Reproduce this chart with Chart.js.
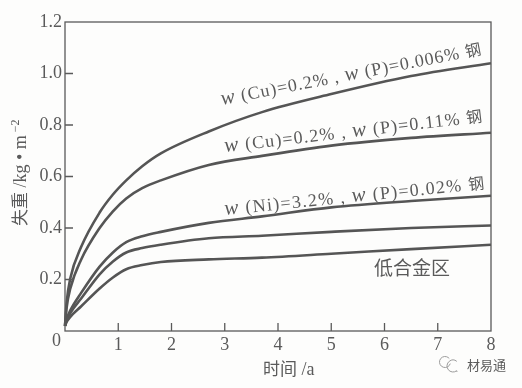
<!DOCTYPE html>
<html>
<head>
<meta charset="utf-8">
<style>
  html, body { margin: 0; padding: 0; background: #fdfdfc; }
  canvas { display: block; }
</style>
<script src="https://cdn.jsdelivr.net/npm/chart.js@4/dist/chart.umd.min.js"></script>
</head>
<body>
<canvas id="chart" width="522" height="388"></canvas>
<script>
const years = [0, 0.03, 0.1, 0.3, 0.65, 0.9, 1.15, 1.45, 1.8, 2.7, 3.7, 5, 6.5, 8];
const cuLowP = [0.02, 0.11, 0.205, 0.325, 0.46, 0.53, 0.585, 0.64, 0.69, 0.775, 0.85, 0.92, 0.99, 1.04];
const cuHighP = [0.02, 0.09, 0.165, 0.276, 0.4, 0.465, 0.515, 0.555, 0.585, 0.645, 0.68, 0.72, 0.75, 0.77];
const niSteel = [0.02, 0.045, 0.08, 0.147, 0.25, 0.305, 0.345, 0.368, 0.385, 0.42, 0.445, 0.48, 0.505, 0.525];
const steelD = [0.02, 0.04, 0.07, 0.125, 0.22, 0.27, 0.305, 0.322, 0.335, 0.36, 0.37, 0.385, 0.4, 0.41];
const lowAlloy = [0.02, 0.035, 0.055, 0.095, 0.165, 0.208, 0.24, 0.256, 0.268, 0.278, 0.285, 0.3, 0.318, 0.335];
const seriesList = [cuLowP, cuHighP, niSteel, steelD, lowAlloy];
const xTicks = [1, 2, 3, 4, 5, 6, 7, 8];
const yTicks = [0.2, 0.4, 0.6, 0.8, 1.0, 1.2];

const ink = '#5a5a5a';
const serif = '"Liberation Serif", serif';
const cjk = '"Noto Sans CJK SC", sans-serif';

// runs of text along a rotated baseline, each run can have its own font
// spacing is the extra gap per character, in px
function drawRuns(ctx, runs, x, y, angle, spacing) {
  ctx.save();
  ctx.translate(x, y);
  ctx.rotate(angle * Math.PI / 180);
  ctx.fillStyle = ink;
  ctx.textAlign = 'left';
  ctx.textBaseline = 'alphabetic';
  ctx.letterSpacing = (spacing || 0) + 'px';
  let pos = 0;
  runs.forEach(([text, font, dy]) => {
    ctx.font = font;
    ctx.fillText(text, pos, dy || 0);
    pos += ctx.measureText(text).width;
  });
  ctx.restore();
}

function wLabel(el, a, b) {
  const t = '18px ' + serif;
  return [
    ['w', 'italic 21px ' + serif],
    [' (' + el + ')', t],
    ['=' + a + '% , ', t],
    ['w', 'italic 21px ' + serif],
    [' (P)=' + b + '% ', t],
    ['钢', '16px ' + cjk]
  ];
}

const annotate = {
  id: 'annotate',
  afterDraw(chart) {
    const { ctx, chartArea: a, scales: { x, y } } = chart;
    ctx.save();
    ctx.strokeStyle = ink;
    ctx.lineWidth = 1.3;
    ctx.strokeRect(a.left, a.top, a.right - a.left, a.bottom - a.top);
    // inward ticks
    ctx.beginPath();
    xTicks.slice(0, -1).forEach(v => {
      const px = x.getPixelForValue(v);
      ctx.moveTo(px, a.bottom);
      ctx.lineTo(px, a.bottom - 8);
    });
    yTicks.slice(0, -1).forEach(v => {
      const py = y.getPixelForValue(v);
      ctx.moveTo(a.left, py);
      ctx.lineTo(a.left + 8, py);
    });
    ctx.stroke();
    ctx.restore();

    drawRuns(ctx, [['0', '18px ' + serif]], 52, 346, 0);
    drawRuns(ctx, wLabel('Cu', '0.2', '0.006'), 222, 105, -11, 0.95);
    drawRuns(ctx, wLabel('Cu', '0.2', '0.11'), 225, 152, -6.7, 1.15);
    drawRuns(ctx, wLabel('Ni', '3.2', '0.02'), 225, 215, -5.8, 1.3);
    drawRuns(ctx, [['低合金区', '19px ' + cjk]], 374, 275, 0);
    drawRuns(ctx, [['时间', '17px ' + cjk], [' /a', '18px ' + serif]], 263, 375, 0);
    drawRuns(ctx, [['失重', '17px ' + cjk], [' /kg • m', '18px ' + serif], [' −2', '12px ' + serif, -7]], 26, 226, -90);
    // watermark
    drawRuns(ctx, [['材易通', '13px ' + cjk]], 467, 370, 0);
    ctx.save();
    ctx.strokeStyle = '#9a9a9a';
    ctx.lineWidth = 1;
    ctx.beginPath();
    ctx.arc(445, 362, 5.5, 0.3, 5.6);
    ctx.moveTo(457, 372);
    ctx.arc(453, 366, 6, 0.9, 5.4);
    ctx.stroke();
    ctx.restore();
  }
};

new Chart(document.getElementById('chart'), {
  type: 'line',
  data: {
    labels: years,
    datasets: seriesList.map(values => ({
      data: values.map((v, i) => ({ x: years[i], y: v })),
      borderColor: '#555555',
      borderWidth: 2.6,
      pointRadius: 0,
      cubicInterpolationMode: 'monotone',
      clip: false
    }))
  },
  options: {
    responsive: false,
    animation: false,
    layout: { padding: { top: 22, right: 31, left: 0, bottom: 0 } },
    plugins: { legend: { display: false }, tooltip: { enabled: false } },
    scales: {
      x: {
        type: 'linear',
        min: 0,
        max: 8,
        afterFit: s => { s.height = 57; },
        grid: { display: false, drawTicks: false, tickLength: 0 },
        border: { display: false },
        afterBuildTicks: s => { s.ticks = xTicks.map(value => ({ value })); },
        ticks: {
          color: ink,
          font: { family: 'Liberation Serif', size: 18 },
          padding: 3,
          maxRotation: 0,
          autoSkip: false,
          callback: v => String(v)
        }
      },
      y: {
        min: 0,
        max: 1.2,
        afterFit: s => { s.width = 65; },
        grid: { display: false, drawTicks: false, tickLength: 0 },
        border: { display: false },
        afterBuildTicks: s => { s.ticks = yTicks.map(value => ({ value })); },
        ticks: {
          color: ink,
          font: { family: 'Liberation Serif', size: 18 },
          padding: 3,
          autoSkip: false,
          callback: v => v.toFixed(1)
        }
      }
    }
  },
  plugins: [annotate]
});
</script>
</body>
</html>
